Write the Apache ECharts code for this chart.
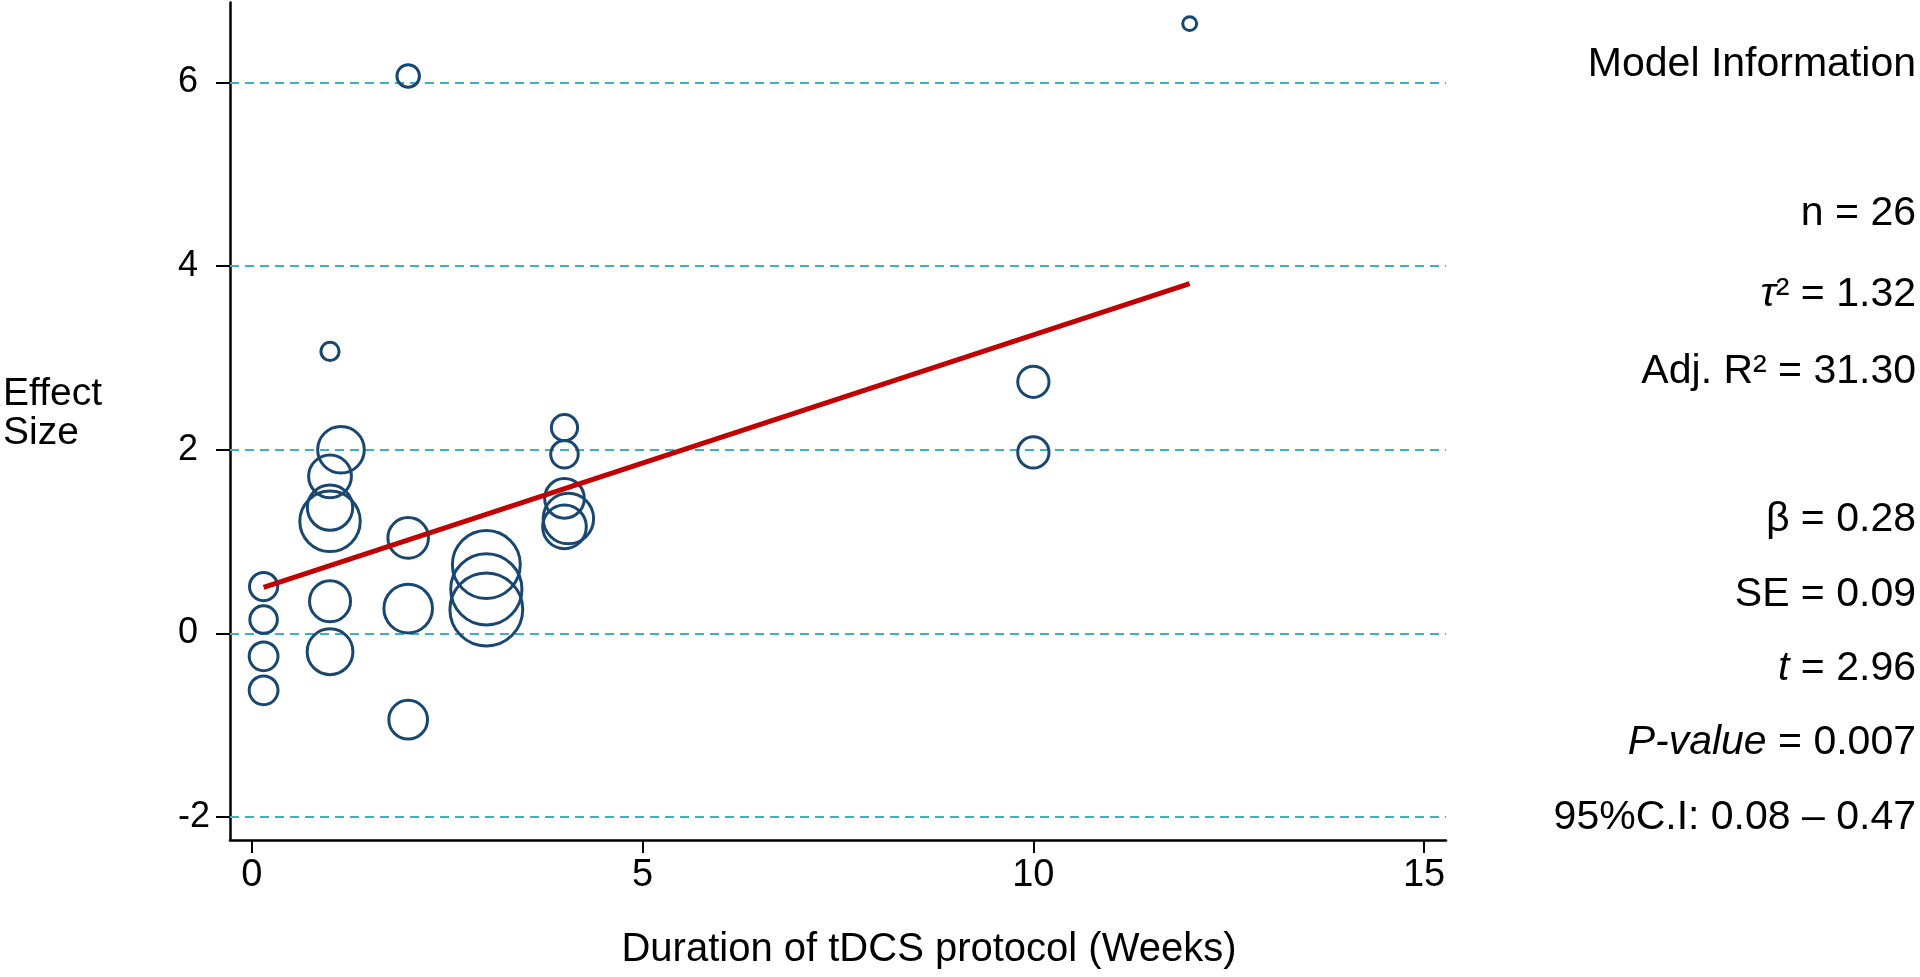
<!DOCTYPE html>
<html><head>
<meta charset="utf-8">
<title>Meta-regression: effect size vs duration of tDCS</title>
<script src="https://cdn.jsdelivr.net/npm/echarts@6/dist/echarts.min.js"></script>
<style>
body{margin:0;background:#fff}
#main{width:1920px;height:977px}
</style>
</head>
<body>
<div id="main"></div>
<script type="text/javascript">
// studies: duration (weeks), effect size, weight
var weeks  = [0.15, 0.15, 0.15, 0.15, 1.14, 1, 1, 1, 1, 1, 1, 2, 2, 2, 2, 3, 3, 3, 4, 4, 4, 4.05, 4, 10, 10, 12];
var effect = [0.51, 0.15, -0.25, -0.62, 2.0, 1.71, 1.37, 1.22, 0.35, -0.2, 3.07, 6.07, 1.04, 0.27, -0.94, 0.75, 0.48, 0.26, 2.24, 1.95, 1.47, 1.25, 1.16, 2.74, 1.97, 6.64];
var weight = [2.4, 2.3, 2.5, 2.5, 6.1, 5.2, 5.8, 10.0, 4.8, 5.9, 1.1, 1.6, 4.7, 6.6, 4.3, 12.5, 13.7, 14.3, 2.1, 2.3, 4.5, 7.1, 5.4, 2.9, 2.9, 0.7];

// fitted line
var fitX = [0.15, 12];
var fitY = [0.50, 3.81];

var xTicks = [0, 5, 10, 15];
var yTicks = [-2, 0, 2, 4, 6];

var infoLines = ['Model Information', 'n = 26', '{i|τ}² = 1.32', 'Adj. R² = 31.30',
  'β = 0.28', 'SE = 0.09', '{i|t} = 2.96', '{i|P-value} = 0.007', '95%C.I: 0.08 – 0.47'];

var FONT = 'Liberation Sans, Arial, Helvetica, sans-serif';

var pts = [];
for (var i = 0; i < weeks.length; i++) pts.push([weeks[i], effect[i], weight[i]]);
var fit = [];
for (var j = 0; j < fitX.length; j++) fit.push([fitX[j], fitY[j]]);

var infoTop = [65, 214, 295, 372, 520, 595, 669, 743, 818];
var graphics = [];
infoLines.forEach(function (t, k) {
  graphics.push({
    type: 'text', x: 1916, y: infoTop[k],
    style: {
      text: t, fill: '#000', fontSize: 41, fontFamily: FONT,
      textAlign: 'right', align: 'right', textVerticalAlign: 'middle', verticalAlign: 'middle',
      rich: { i: { fontStyle: 'italic', fontSize: 41, fontFamily: FONT, fill: '#000' } }
    }
  });
});
// y axis title
graphics.push({
  type: 'text', x: 3, y: 414,
  style: {
    text: 'Effect\nSize', fill: '#000', fontSize: 39, fontFamily: FONT, lineHeight: 39,
    textAlign: 'left', align: 'left', textVerticalAlign: 'middle', verticalAlign: 'middle'
  }
});
// x axis title
graphics.push({
  type: 'text', x: 929, y: 950,
  style: {
    text: 'Duration of tDCS protocol (Weeks)', fill: '#000', fontSize: 40, fontFamily: FONT,
    textAlign: 'center', align: 'center', textVerticalAlign: 'middle', verticalAlign: 'middle'
  }
});

var myChart = echarts.init(document.getElementById('main'));
var option = {
  animation: false,
  backgroundColor: '#fff',
  grid: { left: 230, right: 474, top: 2.5, bottom: 137, containLabel: false },
  xAxis: {
    type: 'value', min: -0.28, max: 15.28,
    axisLine: { onZero: false, lineStyle: { color: '#000', width: 2.5 } },
    axisTick: { length: 13, lineStyle: { color: '#000', width: 2 }, customValues: xTicks },
    axisLabel: { customValues: xTicks, fontSize: 38, fontFamily: FONT, color: '#000', margin: 17 },
    splitLine: { show: false }
  },
  yAxis: {
    type: 'value', min: -2.25, max: 6.87,
    axisLine: { show: true, onZero: false, lineStyle: { color: '#000', width: 2.5 } },
    axisTick: { show: true, length: 14, lineStyle: { color: '#000', width: 2 }, customValues: yTicks },
    axisLabel: { customValues: yTicks, fontSize: 36, fontFamily: FONT, color: '#000', margin: 52, align: 'left' },
    splitLine: { show: false }
  },
  graphic: graphics,
  series: [
    {
      type: 'line', data: [], z: 1, silent: true,
      markLine: {
        silent: true, symbol: ['none', 'none'], z: 1,
        label: { show: false },
        lineStyle: { color: '#3db0c2', width: 2, type: [9, 6] },
        data: yTicks.map(function (v) { return { yAxis: v }; })
      }
    },
    {
      type: 'scatter', data: pts, z: 3,
      symbol: 'circle',
      symbolSize: function (d) { return 20 * Math.sqrt(d[2]) - 2.8; },
      itemStyle: { color: 'rgba(0,0,0,0)', borderColor: '#1a476f', borderWidth: 3, opacity: 1 }
    },
    {
      type: 'line', data: fit, z: 4, showSymbol: false, symbol: 'none',
      lineStyle: { color: '#c00000', width: 5 }
    }
  ]
};
myChart.setOption(option);
</script>
</body>
</html>
